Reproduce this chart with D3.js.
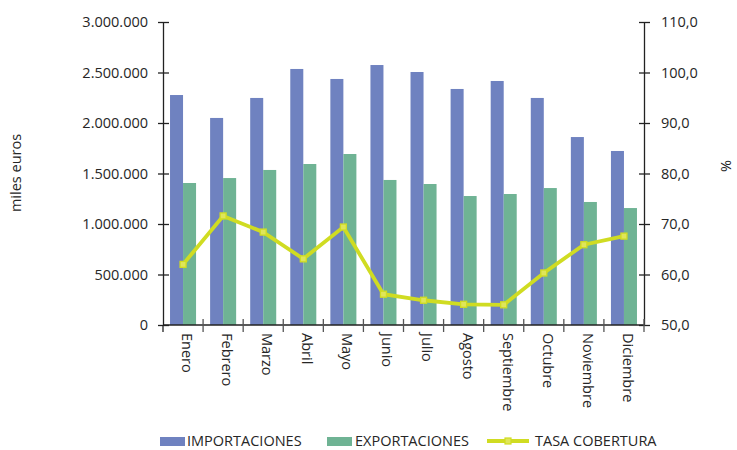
<!DOCTYPE html>
<html>
<head>
<meta charset="utf-8">
<script src="https://cdn.jsdelivr.net/npm/d3@7"></script>
<style>
  body { margin: 0; background: #fff; }
  text { font-family: "Open Sans", "Noto Sans", sans-serif; fill: #262626; }
</style>
</head>
<body>
<div id="chart"></div>
<script>
var meses = ["Enero", "Febrero", "Marzo", "Abril", "Mayo", "Junio", "Julio",
             "Agosto", "Septiembre", "Octubre", "Noviembre", "Diciembre"];
var importaciones = [2277000, 2050000, 2248000, 2535000, 2436000, 2574000,
                     2505000, 2337000, 2416000, 2248000, 1861000, 1723000];
var exportaciones = [1406000, 1455000, 1535000, 1594000, 1693000, 1436000,
                     1396000, 1277000, 1297000, 1356000, 1218000, 1158000];
var tasaCobertura = [62.0, 71.6, 68.4, 63.1, 69.4, 56.1, 54.9, 54.1, 54.0, 60.3, 65.9, 67.6];
var leftTicks = [0, 500000, 1000000, 1500000, 2000000, 2500000, 3000000];
var rightTicks = [50, 60, 70, 80, 90, 100, 110];

var svgWidth = 737;
var svgHeight = 450;
var margin = { top: 22, right: 93, bottom: 125, left: 163 };
var chartWidth = svgWidth - margin.left - margin.right;
var chartHeight = svgHeight - margin.top - margin.bottom;

var blue = "#6f82c0";
var green = "#6fb394";
var lime = "#d0dc22";
var fontSize = "14.5px";

var svg = d3.select("#chart")
    .append("svg")
    .attr("width", svgWidth)
    .attr("height", svgHeight);

var chartGroup = svg.append("g")
    .attr("transform", `translate(${margin.left}, ${margin.top})`);

var xScale = d3.scaleBand()
    .domain(meses)
    .range([0, chartWidth]);

var xSeries = d3.scaleBand()
    .domain(["imp", "exp"])
    .range([0, xScale.bandwidth()])
    .paddingOuter(0.54);

var yLeft = d3.scaleLinear()
    .domain([0, 3000000])
    .range([chartHeight, 0]);

var yRight = d3.scaleLinear()
    .domain([50, 110])
    .range([chartHeight, 0]);

var esLocale = d3.formatLocale({ decimal: ",", thousands: ".", grouping: [3], currency: ["", "€"] });
var fmtMiles = esLocale.format(",d");
var fmtPct = esLocale.format(".1f");

var rows = meses.map(function(m, i) {
    return { mes: m, imp: importaciones[i], exp: exportaciones[i], tasa: tasaCobertura[i] };
});

// bars
chartGroup.selectAll(".imp")
    .data(rows)
    .enter()
    .append("rect")
    .attr("x", d => xScale(d.mes) + xSeries("imp"))
    .attr("y", d => yLeft(d.imp))
    .attr("width", xSeries.bandwidth())
    .attr("height", d => chartHeight - yLeft(d.imp))
    .attr("fill", blue);

chartGroup.selectAll(".exp")
    .data(rows)
    .enter()
    .append("rect")
    .attr("x", d => xScale(d.mes) + xSeries("exp"))
    .attr("y", d => yLeft(d.exp))
    .attr("width", xSeries.bandwidth())
    .attr("height", d => chartHeight - yLeft(d.exp))
    .attr("fill", green);

// axes
var leftAxis = d3.axisLeft(yLeft).tickValues(leftTicks).tickFormat(fmtMiles).tickSizeInner(5).tickSizeOuter(0).tickPadding(10);
var rightAxis = d3.axisRight(yRight).tickValues(rightTicks).tickFormat(fmtPct).tickSizeInner(6).tickSizeOuter(0).tickPadding(11);

var gl = chartGroup.append("g").call(leftAxis);
gl.selectAll(".tick line").attr("x2", 6).attr("x1", -5);
var gr = chartGroup.append("g")
    .attr("transform", `translate(${chartWidth}, 0)`)
    .call(rightAxis);
gr.selectAll(".tick line").attr("x1", -5);

[gl, gr].forEach(function(g) {
    g.select(".domain").attr("stroke", "#222").attr("stroke-width", 1.3);
    g.selectAll(".tick line").attr("stroke", "#222").attr("stroke-width", 1.3);
    g.selectAll("text").attr("font-size", fontSize).attr("fill", "#262626")
        .attr("font-family", "'Open Sans', 'Noto Sans', sans-serif");
});

// x axis
chartGroup.append("line")
    .attr("x1", 0).attr("x2", chartWidth)
    .attr("y1", chartHeight).attr("y2", chartHeight)
    .attr("stroke", "#222").attr("stroke-width", 1.3);

chartGroup.selectAll(".xtick")
    .data(meses)
    .enter()
    .append("line")
    .attr("x1", (d, i) => xScale.step() * (i + 1))
    .attr("x2", (d, i) => xScale.step() * (i + 1))
    .attr("y1", chartHeight - 6)
    .attr("y2", chartHeight + 7)
    .attr("stroke", "#555").attr("stroke-width", 1.3);

chartGroup.append("line")
    .attr("x1", 0).attr("x2", 0)
    .attr("y1", chartHeight).attr("y2", chartHeight + 7)
    .attr("stroke", "#222").attr("stroke-width", 1.3);

chartGroup.selectAll(".xlabel")
    .data(meses)
    .enter()
    .append("text")
    .attr("transform", d => `translate(${xScale(d) + xScale.bandwidth() / 2 + 4}, ${chartHeight + 8}) rotate(90)`)
    .attr("dy", "0.35em")
    .attr("font-size", fontSize)
    .text(d => d);

// line
var line = d3.line()
    .x(d => xScale(d.mes) + xScale.bandwidth() / 2)
    .y(d => yRight(d.tasa));

chartGroup.append("path")
    .datum(rows)
    .attr("d", line)
    .attr("fill", "none")
    .attr("stroke", lime)
    .attr("stroke-width", 3.8);

chartGroup.selectAll(".marker")
    .data(rows)
    .enter()
    .append("rect")
    .attr("x", d => xScale(d.mes) + xScale.bandwidth() / 2 - 3)
    .attr("y", d => yRight(d.tasa) - 3)
    .attr("width", 6)
    .attr("height", 6)
    .attr("fill", "#dfe65a")
    .attr("stroke", lime)
    .attr("stroke-width", 1.3);

// axis titles
svg.append("text")
    .attr("transform", "translate(21, 173) rotate(-90)")
    .attr("text-anchor", "middle")
    .attr("font-size", fontSize)
    .text("miles euros");

svg.append("text")
    .attr("transform", "translate(726, 166) rotate(90)")
    .attr("text-anchor", "middle")
    .attr("dy", "0.35em")
    .attr("font-size", fontSize)
    .text("%");

// legend
var legend = svg.append("g").attr("transform", "translate(0, 441)");
legend.append("rect").attr("x", 160).attr("y", -4).attr("width", 25).attr("height", 9).attr("fill", blue);
legend.append("text").attr("x", 187).attr("y", 5).attr("font-size", fontSize).text("IMPORTACIONES");
legend.append("rect").attr("x", 327).attr("y", -4).attr("width", 25).attr("height", 9).attr("fill", green);
legend.append("text").attr("x", 355).attr("y", 5).attr("font-size", fontSize).text("EXPORTACIONES");
legend.append("line").attr("x1", 487).attr("x2", 529).attr("y1", 0).attr("y2", 0)
    .attr("stroke", lime).attr("stroke-width", 3.8);
legend.append("rect").attr("x", 505).attr("y", -3).attr("width", 6).attr("height", 6)
    .attr("fill", "#dfe65a").attr("stroke", lime).attr("stroke-width", 1.2);
legend.append("text").attr("x", 535).attr("y", 5).attr("font-size", fontSize).text("TASA COBERTURA");
</script>
</body>
</html>
